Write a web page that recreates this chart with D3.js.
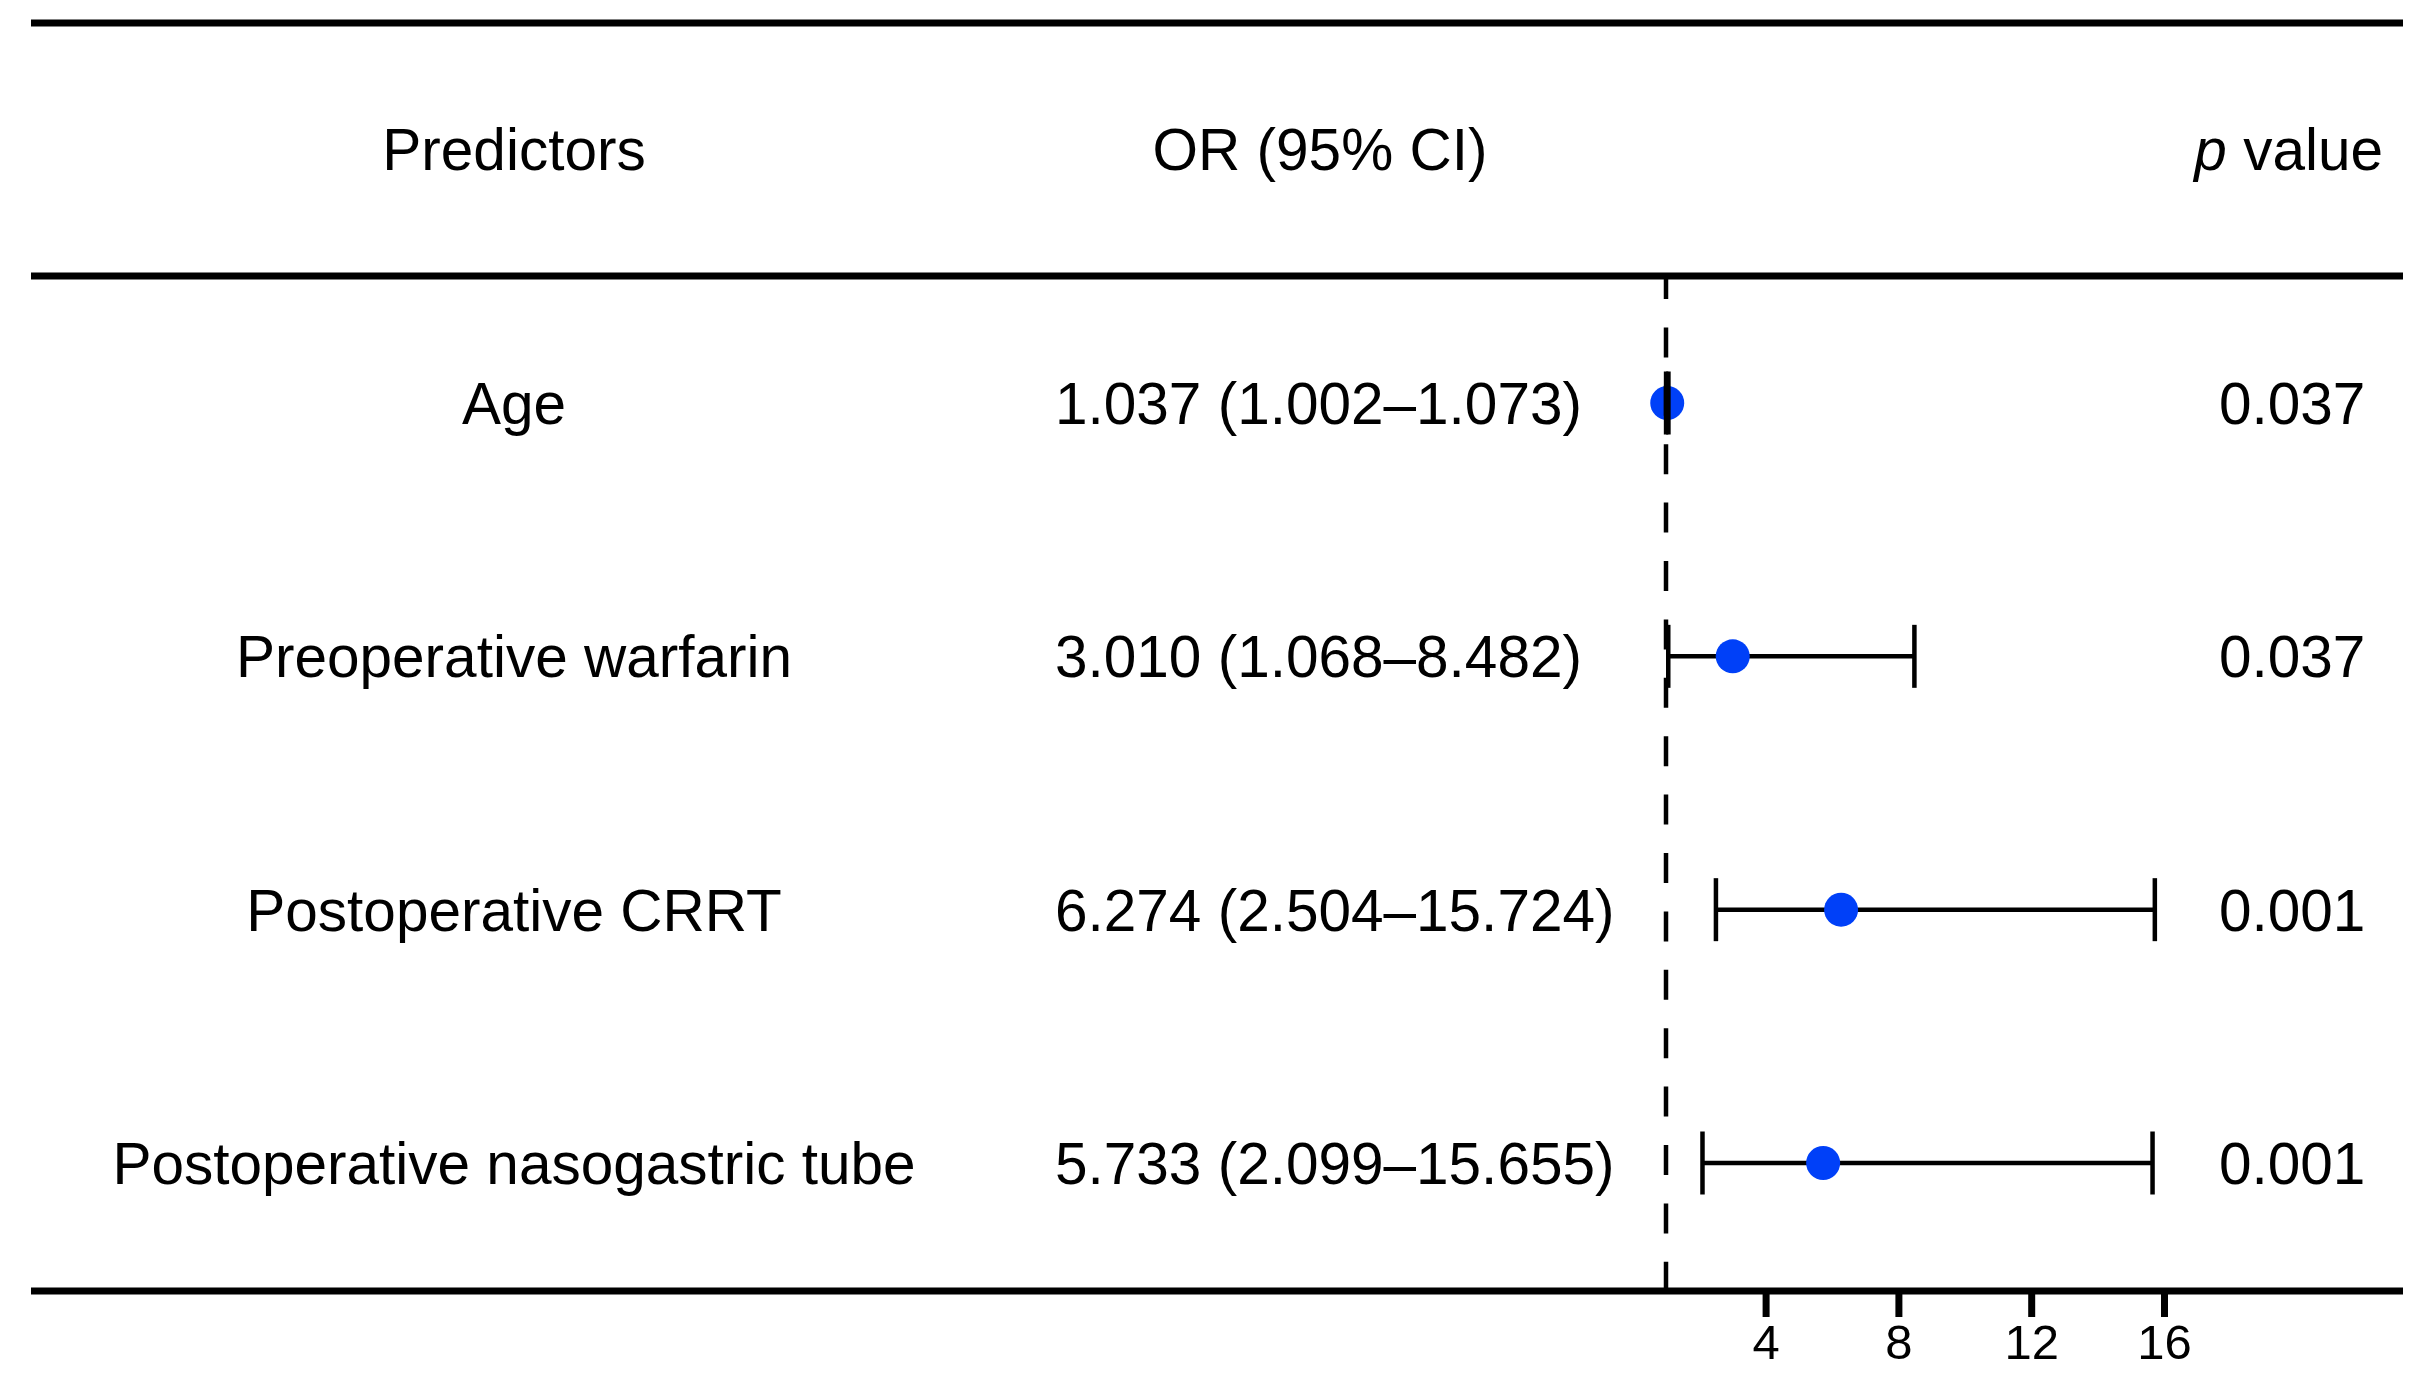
<!DOCTYPE html>
<html lang="en">
<head>
<meta charset="UTF-8">
<script src="https://d3js.org/d3.v7.min.js"></script>
<title>Forest plot</title>
<style>
  body { margin: 0; background: #fff; }
  svg text { font-family: "Liberation Sans", Arial, Helvetica, sans-serif; fill: #000; }
</style>
</head>
<body>
<svg id="svg" width="2431" height="1379"></svg>
<script>
// data
var predictors = ["Age", "Preoperative warfarin", "Postoperative CRRT", "Postoperative nasogastric tube"];
var orValues = [1.037, 3.010, 6.274, 5.733];
var ciLower = [1.002, 1.068, 2.504, 2.099];
var ciUpper = [1.073, 8.482, 15.724, 15.655];
var pValues = ["0.037", "0.037", "0.001", "0.001"];
var xTicks = [4, 8, 12, 16];

var rows = predictors.map(function (p, i) {
  return {
    name: p,
    or: orValues[i],
    lo: ciLower[i],
    hi: ciUpper[i],
    p: pValues[i],
    label: orValues[i].toFixed(3) + " (" + ciLower[i].toFixed(3) + "\u2013" + ciUpper[i].toFixed(3) + ")"
  };
});

var svg = d3.select("#svg");

var left = 31, right = 2403;
var topLine = 23, headLine = 276, bottomLine = 1291;
var fontSize = 58.5;

// scales
var x = d3.scaleLinear().domain([1, 16]).range([1666, 2164]);
var y = d3.scalePoint().domain(predictors).range([403, 1163]);

// header
var header = svg.append("g");
header.append("text")
  .attr("x", 514).attr("y", 170)
  .attr("text-anchor", "middle")
  .style("font-size", fontSize + "px")
  .text("Predictors");
header.append("text")
  .attr("x", 1320).attr("y", 170)
  .attr("text-anchor", "middle")
  .style("font-size", fontSize + "px")
  .text("OR (95% CI)");
var pv = header.append("text")
  .attr("x", 2383).attr("y", 170)
  .attr("text-anchor", "end")
  .style("font-size", fontSize + "px");
pv.append("tspan").style("font-style", "italic").text("p");
pv.append("tspan").text(" value");

// text columns
var rowG = svg.append("g").selectAll("g").data(rows).enter().append("g");

rowG.append("text")
  .attr("x", 514)
  .attr("y", function (d) { return y(d.name) + 21; })
  .attr("text-anchor", "middle")
  .style("font-size", fontSize + "px")
  .text(function (d) { return d.name; });

rowG.append("text")
  .attr("x", 1055)
  .attr("y", function (d) { return y(d.name) + 21; })
  .style("font-size", fontSize + "px")
  .text(function (d) { return d.label; });

rowG.append("text")
  .attr("x", 2219)
  .attr("y", function (d) { return y(d.name) + 21; })
  .style("font-size", fontSize + "px")
  .text(function (d) { return d.p; });

// CI lines
var plot = svg.append("g");
plot.selectAll("line.ci").data(rows).enter().append("line")
  .attr("class", "ci")
  .attr("x1", function (d) { return x(d.lo); })
  .attr("x2", function (d) { return x(d.hi); })
  .attr("y1", function (d) { return y(d.name); })
  .attr("y2", function (d) { return y(d.name); })
  .attr("stroke", "#000")
  .attr("stroke-width", 4.5);

// points
plot.selectAll("circle").data(rows).enter().append("circle")
  .attr("cx", function (d) { return x(d.or); })
  .attr("cy", function (d) { return y(d.name); })
  .attr("r", 17)
  .attr("fill", "#0040F8");

// caps
["lo", "hi"].forEach(function (k) {
  plot.selectAll("line.cap-" + k).data(rows).enter().append("line")
    .attr("class", "cap-" + k)
    .attr("x1", function (d) { return x(d[k]); })
    .attr("x2", function (d) { return x(d[k]); })
    .attr("y1", function (d) { return y(d.name) - 31.5; })
    .attr("y2", function (d) { return y(d.name) + 31.5; })
    .attr("stroke", "#000")
    .attr("stroke-width", 4.5);
});

// reference line at OR = 1
plot.append("line")
  .attr("x1", x(1)).attr("x2", x(1))
  .attr("y1", headLine).attr("y2", bottomLine)
  .attr("stroke", "#000")
  .attr("stroke-width", 4.5)
  .attr("stroke-dasharray", "30,28.4")
  .attr("stroke-dashoffset", 7);

// table rules
[topLine, headLine, bottomLine].forEach(function (yy) {
  svg.append("line")
    .attr("x1", left).attr("x2", right)
    .attr("y1", yy).attr("y2", yy)
    .attr("stroke", "#000")
    .attr("stroke-width", 7);
});

// x axis
var axis = svg.append("g")
  .attr("transform", "translate(0," + bottomLine + ")")
  .call(d3.axisBottom(x).tickValues(xTicks).tickSize(26).tickPadding(7));
axis.select(".domain").remove();
axis.selectAll(".tick line").attr("stroke", "#000").attr("stroke-width", 7);
axis.selectAll(".tick text")
  .attr("fill", "#000")
  .style("font-size", "49px")
  .style("font-family", "'Liberation Sans', Arial, sans-serif");
</script>
</body>
</html>
